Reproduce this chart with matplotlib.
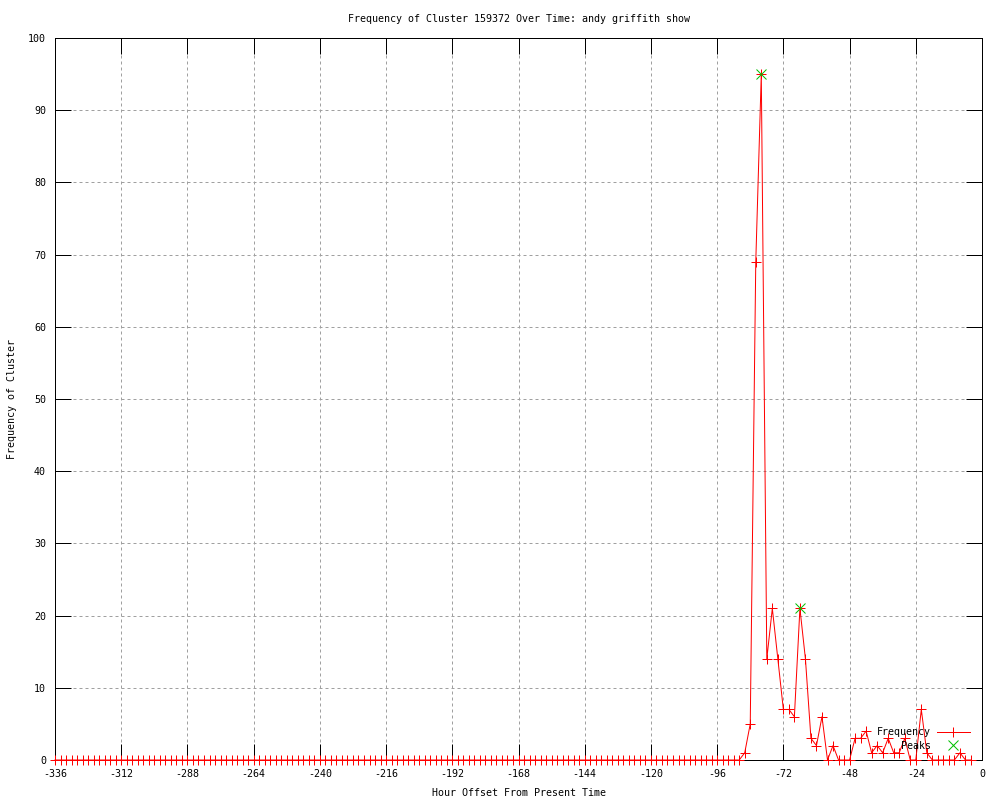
import numpy as np
import matplotlib
matplotlib.use('Agg')
from matplotlib import pyplot as plt

# hourly offsets (every 2 hours) and cluster frequency
hours = np.arange(-336, -2, 2)
counts = [
    0, 0, 0, 0, 0, 0, 0, 0, 0, 0, 0, 0, 0, 0, 0, 0, 0, 0, 0, 0,
    0, 0, 0, 0, 0, 0, 0, 0, 0, 0, 0, 0, 0, 0, 0, 0, 0, 0, 0, 0,
    0, 0, 0, 0, 0, 0, 0, 0, 0, 0, 0, 0, 0, 0, 0, 0, 0, 0, 0, 0,
    0, 0, 0, 0, 0, 0, 0, 0, 0, 0, 0, 0, 0, 0, 0, 0, 0, 0, 0, 0,
    0, 0, 0, 0, 0, 0, 0, 0, 0, 0, 0, 0, 0, 0, 0, 0, 0, 0, 0, 0,
    0, 0, 0, 0, 0, 0, 0, 0, 0, 0, 0, 0, 0, 0, 0, 0, 0, 0, 0, 0,
    0, 0, 0, 0,
    # -88 .. -4
    0, 1, 5, 69, 95, 14, 21, 14, 7, 7, 6, 21, 14, 3, 2, 6, 0, 2, 0, 0,
    0, 3, 3, 4, 1, 2, 1, 3, 1, 1, 3, 0, 0, 7, 1, 0, 0, 0, 0, 0,
    1, 0, 0,
]
peak_hours = [-80, -66]
peak_counts = [95, 21]

x_ticks = np.arange(-336, 1, 24)
y_ticks = np.arange(0, 101, 10)

plt.rcParams['font.family'] = 'DejaVu Sans Mono'
plt.rcParams['font.size'] = 7.2
plt.rcParams['axes.unicode_minus'] = False

px = 0.72  # one pixel in points at dpi 100

fig = plt.figure(figsize=(10, 8), dpi=100)
ax = fig.add_axes([0.055, 0.05, 0.927, 0.9025])

ax.plot(hours, counts, color='#ff0000', linewidth=px, marker='+',
        markersize=7, markeredgewidth=px, label='Frequency', clip_on=False, zorder=3)
ax.plot(peak_hours, peak_counts, linestyle='none', color='#00c000', marker='x',
        markersize=7, markeredgewidth=px, label='Peaks', clip_on=False, zorder=4)

ax.set_xlim(-336, 0)
ax.set_ylim(0, 100)
ax.set_xticks(x_ticks)
ax.set_yticks(y_ticks)
ax.tick_params(direction='in', length=11.5, width=px, top=True, right=True,
               labelsize=7.2, pad=6.5)
ax.grid(True, color='#a0a0a0', linestyle=(0, (3, 3)), linewidth=px)
for s in ax.spines.values():
    s.set_linewidth(px)

ax.set_title('Frequency of Cluster 159372 Over Time: andy griffith show',
             fontsize=7.2, pad=11.5)
ax.set_xlabel('Hour Offset From Present Time', fontsize=7.2, labelpad=6.5)
ax.set_ylabel('Frequency of Cluster', fontsize=7.2, labelpad=8)

ax.legend(loc='lower right', bbox_to_anchor=(0.987, 0.013), frameon=False,
          markerfirst=False, handlelength=3.3, handletextpad=0.6,
          borderpad=0, borderaxespad=0, labelspacing=0.35, fontsize=7.2)

plt.savefig('out.png', dpi=100)
